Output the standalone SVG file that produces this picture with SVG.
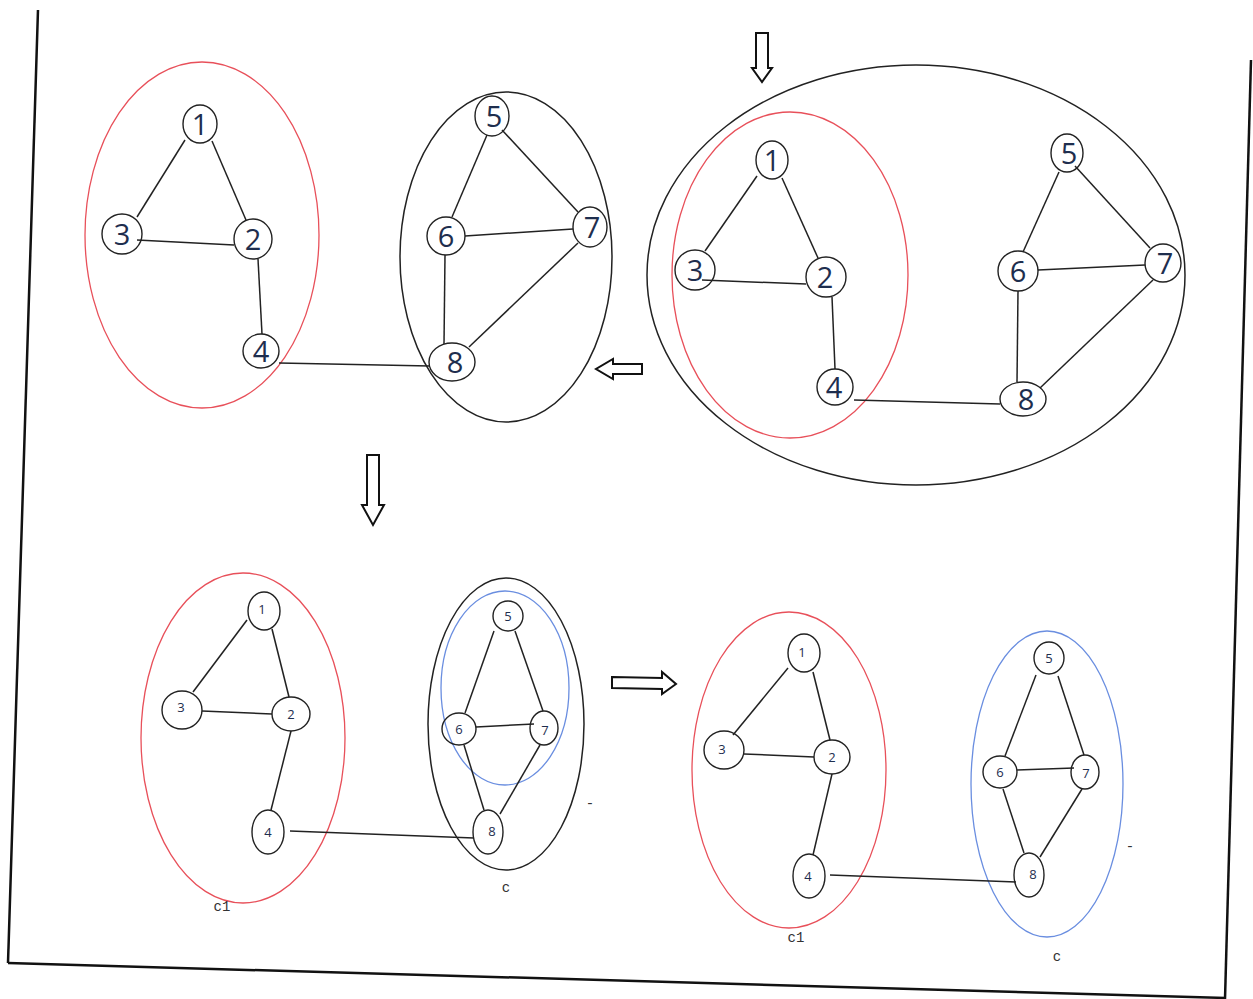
<svg xmlns="http://www.w3.org/2000/svg" width="1253" height="999" viewBox="0 0 1253 999">
<style>
.n{fill:none;stroke:#222;stroke-width:1.4}
.big{font-family:"Open Sans","Liberation Sans",sans-serif;font-size:29px;fill:#1e2e4e;text-anchor:middle}
.sm{font-family:"Open Sans","Liberation Sans",sans-serif;font-size:13px;fill:#1e2e4e;text-anchor:middle}
.lbl{font-family:"Liberation Mono","DejaVu Sans Mono",monospace;font-size:14px;fill:#333;text-anchor:middle}
.e{stroke:#222;stroke-width:1.5;fill:none}
.red{fill:none;stroke:#e8505a;stroke-width:1.3}
.blk{fill:none;stroke:#222;stroke-width:1.5}
.blu{fill:none;stroke:#6a8ee0;stroke-width:1.3}
.arr{fill:#fff;stroke:#111;stroke-width:2}
.frame{stroke:#111;stroke-width:2.5;fill:none}
</style>
<rect width="1253" height="999" fill="#fff"/>
<g id="frame">
<line class="frame" x1="38" y1="10" x2="8" y2="963"/>
<line class="frame" x1="8" y1="963" x2="1226" y2="998"/>
<line class="frame" x1="1251" y1="60" x2="1225" y2="999"/>
</g>
<g id="groups">
<ellipse class="red" cx="202" cy="235" rx="117" ry="173"/>
<ellipse class="blk" cx="506" cy="257" rx="106" ry="165"/>
<ellipse class="blk" cx="916" cy="275" rx="269" ry="210"/>
<ellipse class="red" cx="790" cy="275" rx="118" ry="163"/>
<ellipse class="red" cx="243" cy="738" rx="102" ry="165"/>
<ellipse class="blk" cx="506" cy="724" rx="78" ry="146"/>
<ellipse class="blu" cx="505" cy="688" rx="64" ry="97"/>
<ellipse class="red" cx="789" cy="770" rx="97" ry="158"/>
<ellipse class="blu" cx="1047" cy="784" rx="76" ry="153"/>
</g>
<g id="arrows">
<path class="arr" d="M642,364 L613,364 L613,359 L596,369 L613,379 L613,374 L642,374 Z"/>
<path class="arr" d="M756,33 L768,33 L768,68 L772,68 L762,82 L752,68 L756,68 Z"/>
<path class="arr" d="M367,455 L379,455 L379,505 L384,505 L373,525 L362,505 L367,505 Z"/>
<path class="arr" d="M612,677 L662,678 L662,672 L676,684 L662,694 L662,689 L612,688 Z"/>
</g>
<g id="connectors">
<line class="e" x1="185" y1="140" x2="137" y2="217"/>
<line class="e" x1="212" y1="141" x2="246" y2="220"/>
<line class="e" x1="137" y1="240" x2="234" y2="245"/>
<line class="e" x1="258" y1="259" x2="262" y2="334"/>
<line class="e" x1="279" y1="363" x2="430" y2="366"/>
<line class="e" x1="487" y1="135" x2="452" y2="217"/>
<line class="e" x1="502" y1="130" x2="578" y2="212"/>
<line class="e" x1="465" y1="236" x2="573" y2="229"/>
<line class="e" x1="445" y1="255" x2="444" y2="344"/>
<line class="e" x1="578" y1="243" x2="469" y2="347"/>

<line class="e" x1="757" y1="176" x2="705" y2="251"/>
<line class="e" x1="782" y1="178" x2="818" y2="258"/>
<line class="e" x1="702" y1="280" x2="806" y2="284"/>
<line class="e" x1="832" y1="297" x2="835" y2="369"/>
<line class="e" x1="854" y1="400" x2="1000" y2="404"/>
<line class="e" x1="1059" y1="172" x2="1023" y2="252"/>
<line class="e" x1="1075" y1="166" x2="1150" y2="248"/>
<line class="e" x1="1038" y1="270" x2="1145" y2="265"/>
<line class="e" x1="1018" y1="291" x2="1017" y2="382"/>
<line class="e" x1="1153" y1="280" x2="1040" y2="388"/>

<line class="e" x1="247" y1="620" x2="193" y2="692"/>
<line class="e" x1="272" y1="629" x2="289" y2="697"/>
<line class="e" x1="202" y1="711" x2="272" y2="714"/>
<line class="e" x1="291" y1="731" x2="271" y2="810"/>
<line class="e" x1="290" y1="831" x2="474" y2="838"/>
<line class="e" x1="494" y1="631" x2="465" y2="713"/>
<line class="e" x1="515" y1="631" x2="543" y2="711"/>
<line class="e" x1="476" y1="727" x2="534" y2="724"/>
<line class="e" x1="464" y1="745" x2="484" y2="810"/>
<line class="e" x1="540" y1="745" x2="500" y2="814"/>

<line class="e" x1="788" y1="668" x2="733" y2="735"/>
<line class="e" x1="813" y1="672" x2="830" y2="740"/>
<line class="e" x1="744" y1="754" x2="814" y2="757"/>
<line class="e" x1="832" y1="774" x2="813" y2="855"/>
<line class="e" x1="830" y1="875" x2="1016" y2="882"/>
<line class="e" x1="1036" y1="675" x2="1005" y2="756"/>
<line class="e" x1="1058" y1="676" x2="1084" y2="755"/>
<line class="e" x1="1017" y1="770" x2="1074" y2="768"/>
<line class="e" x1="1003" y1="789" x2="1024" y2="853"/>
<line class="e" x1="1082" y1="789" x2="1040" y2="857"/>
</g>
<g id="a1"><ellipse class="n" cx="200" cy="124" rx="17" ry="19"/><text class="big" x="200" y="135">1</text></g>
<g id="a3"><ellipse class="n" cx="122" cy="234" rx="20" ry="20"/><text class="big" x="122" y="245">3</text></g>
<g id="a2"><ellipse class="n" cx="253" cy="239" rx="19" ry="20"/><text class="big" x="253" y="250">2</text></g>
<g id="a4"><ellipse class="n" cx="261" cy="351" rx="18" ry="17"/><text class="big" x="261" y="362">4</text></g>
<g id="a5"><ellipse class="n" cx="492" cy="116" rx="17" ry="20"/><text class="big" x="494" y="127">5</text></g>
<g id="a6"><ellipse class="n" cx="446" cy="236" rx="19" ry="19"/><text class="big" x="446" y="247">6</text></g>
<g id="a7"><ellipse class="n" cx="590" cy="227" rx="17" ry="20"/><text class="big" x="592" y="238">7</text></g>
<g id="a8"><ellipse class="n" cx="452" cy="362" rx="23" ry="19"/><text class="big" x="455" y="373">8</text></g>

<g id="b1"><ellipse class="n" cx="772" cy="160" rx="16" ry="19"/><text class="big" x="772" y="171">1</text></g>
<g id="b3"><ellipse class="n" cx="695" cy="270" rx="20" ry="20"/><text class="big" x="695" y="281">3</text></g>
<g id="b2"><ellipse class="n" cx="826" cy="277" rx="20" ry="20"/><text class="big" x="825" y="288">2</text></g>
<g id="b4"><ellipse class="n" cx="835" cy="387" rx="18" ry="18"/><text class="big" x="834" y="398">4</text></g>
<g id="b5"><ellipse class="n" cx="1067" cy="153" rx="16" ry="19"/><text class="big" x="1069" y="164">5</text></g>
<g id="b6"><ellipse class="n" cx="1018" cy="271" rx="20" ry="20"/><text class="big" x="1018" y="282">6</text></g>
<g id="b7"><ellipse class="n" cx="1163" cy="263" rx="18" ry="19"/><text class="big" x="1165" y="274">7</text></g>
<g id="b8"><ellipse class="n" cx="1023" cy="399" rx="23" ry="17"/><text class="big" x="1026" y="410">8</text></g>

<g id="c1n"><ellipse class="n" cx="264" cy="611" rx="16" ry="19"/><text class="sm" x="262" y="614">1</text></g>
<g id="c3"><ellipse class="n" cx="182" cy="710" rx="20" ry="19"/><text class="sm" x="181" y="712">3</text></g>
<g id="c2"><ellipse class="n" cx="291" cy="714" rx="19" ry="17"/><text class="sm" x="291" y="719">2</text></g>
<g id="c4"><ellipse class="n" cx="268" cy="832" rx="16" ry="22"/><text class="sm" x="268" y="837">4</text></g>
<g id="c5"><ellipse class="n" cx="508" cy="616" rx="15" ry="15"/><text class="sm" x="508" y="621">5</text></g>
<g id="c6"><ellipse class="n" cx="459" cy="729" rx="17" ry="16"/><text class="sm" x="459" y="734">6</text></g>
<g id="c7"><ellipse class="n" cx="544" cy="728" rx="14" ry="17"/><text class="sm" x="545" y="735">7</text></g>
<g id="c8"><ellipse class="n" cx="488" cy="832" rx="15" ry="22"/><text class="sm" x="492" y="836">8</text></g>

<g id="d1"><ellipse class="n" cx="804" cy="653" rx="16" ry="19"/><text class="sm" x="802" y="657">1</text></g>
<g id="d3"><ellipse class="n" cx="724" cy="750" rx="20" ry="19"/><text class="sm" x="722" y="754">3</text></g>
<g id="d2"><ellipse class="n" cx="832" cy="757" rx="18" ry="17"/><text class="sm" x="832" y="762">2</text></g>
<g id="d4"><ellipse class="n" cx="809" cy="876" rx="16" ry="22"/><text class="sm" x="808" y="881">4</text></g>
<g id="d5"><ellipse class="n" cx="1049" cy="658" rx="15" ry="16"/><text class="sm" x="1049" y="663">5</text></g>
<g id="d6"><ellipse class="n" cx="1000" cy="772" rx="17" ry="16"/><text class="sm" x="1000" y="777">6</text></g>
<g id="d7"><ellipse class="n" cx="1085" cy="772" rx="14" ry="17"/><text class="sm" x="1086" y="778">7</text></g>
<g id="d8"><ellipse class="n" cx="1029" cy="875" rx="15" ry="22"/><text class="sm" x="1033" y="879">8</text></g>

<g id="labels">
<text class="lbl" x="222" y="911">c1</text>
<text class="lbl" x="506" y="892">c</text>
<text class="lbl" x="590" y="808">-</text>
<text class="lbl" x="796" y="942">c1</text>
<text class="lbl" x="1057" y="961">c</text>
<text class="lbl" x="1130" y="851">-</text>
</g>
</svg>
